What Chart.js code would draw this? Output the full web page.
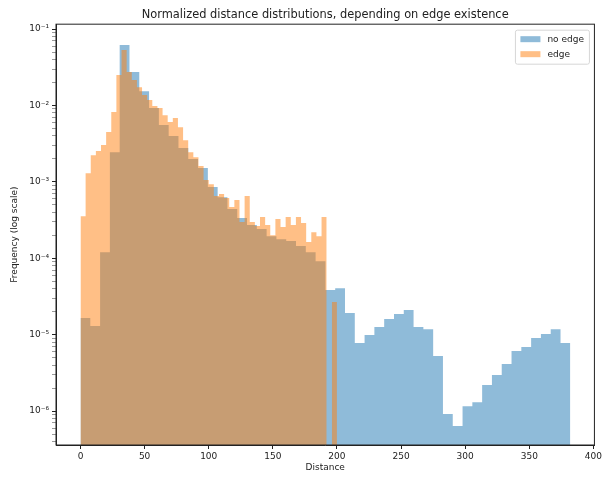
<!DOCTYPE html>
<html>
<head>
<meta charset="utf-8">
<script src="https://cdn.jsdelivr.net/npm/chart.js@4.4.1/dist/chart.umd.min.js"></script>
<style>
  html, body { margin: 0; padding: 0; background: #fff; }
  #wrap { width: 604px; height: 479px; }
</style>
</head>
<body>
<div id="wrap"><canvas id="c" width="604" height="479"></canvas></div>
<script>
// Histogram bins: 50 equal bins over each series' distance range
const BIN_COUNT = 50;
const noEdgeRange = [0, 382];
const edgeRange = [0, 200];

// Normalized frequency (density) per bin; null = empty bin
const noEdgeDensity = [
  1.65e-5, 1.30e-5, 1.20e-4, 2.45e-3, 6.18e-2, 2.74e-2, 1.54e-2, 9.25e-3, 5.54e-3, 3.98e-3,
  2.77e-3, 1.99e-3, 1.52e-3, 8.55e-4, 6.32e-4, 4.41e-4, 3.36e-4, 2.72e-4, 2.41e-4, 1.95e-4,
  1.78e-4, 1.68e-4, 1.45e-4, 1.20e-4, 9.18e-5, 3.84e-5, 4.07e-5, 1.92e-5, 7.76e-6, 9.89e-6,
  1.26e-5, 1.60e-5, 1.86e-5, 2.10e-5, 1.26e-5, 1.18e-5, 5.25e-6, 9.14e-7, 6.37e-7, 1.16e-6,
  1.31e-6, 2.19e-6, 2.96e-6, 4.12e-6, 6.10e-6, 6.89e-6, 9.02e-6, 1.02e-5, 1.18e-5, 7.76e-6
];
const edgeDensity = [
  3.56e-4, 1.30e-3, 2.24e-3, 2.53e-3, 3.03e-3, 4.49e-3, 8.20e-3, 2.50e-2, 5.31e-2, 2.74e-2,
  2.15e-2, 1.74e-2, 1.37e-2, 1.18e-2, 9.82e-3, 9.25e-3, 7.48e-3, 6.07e-3, 6.84e-3, 5.21e-3,
  3.52e-3, 2.45e-3, 2.11e-3, 1.61e-3, 1.06e-3, 9.35e-4, 6.52e-4, 6.92e-4, 6.14e-4, 4.68e-4,
  5.78e-4, 2.98e-4, 6.52e-4, 2.98e-4, 2.64e-4, 3.46e-4, 2.72e-4, 2.01e-4, 3.26e-4, 2.56e-4,
  3.46e-4, 2.72e-4, 3.46e-4, 2.89e-4, 1.63e-4, 2.20e-4, 1.95e-4, 3.46e-4, null, 2.67e-5
];

const seriesLabels = ['no edge', 'edge'];
const decadeExponents = [-7, -6, -5, -4, -3, -2, -1, 0];
const xLimits = [-19.1, 400.8];
const yLimits = [3.6e-7, 0.116];
const xTickStep = 50;

const FONT = "'DejaVu Sans', 'Liberation Sans', sans-serif";
const BLUE = 'rgba(31,119,180,0.5)';
const ORANGE = 'rgba(255,127,14,0.5)';

// Step outline of a histogram: one point at each bin's left edge, a closing
// point at the right edge of every run of non-empty bins, and a gap between runs.
function histOutline(values, range) {
  const w = (range[1] - range[0]) / BIN_COUNT;
  const pts = [];
  let open = false;
  values.forEach((v, i) => {
    const left = range[0] + i * w;
    if (v === null) {
      if (open) {
        pts.push({ x: left, y: values[i - 1] });
        pts.push({ x: left, y: null });
        open = false;
      }
      return;
    }
    pts.push({ x: left, y: v });
    open = true;
  });
  if (open) pts.push({ x: range[1], y: values[values.length - 1] });
  return pts;
}

const SUP = { '-': '\u207B', '0': '\u2070', '1': '\u00B9', '2': '\u00B2', '3': '\u00B3',
  '4': '\u2074', '5': '\u2075', '6': '\u2076', '7': '\u2077', '8': '\u2078', '9': '\u2079' };
const sup = s => String(s).split('').map(c => SUP[c] || c).join('');

// Frame around the plotting area and the boxed legend in its upper right corner
const framePlugin = {
  id: 'frameAndLegend',
  afterDraw(chart) {
    const { ctx, chartArea: a } = chart;
    ctx.save();
    ctx.strokeStyle = '#222';
    ctx.lineWidth = 1;
    ctx.strokeRect(a.left, a.top, a.right - a.left, a.bottom - a.top);

    const boxW = 74, boxH = 34;
    const bx = a.right - 5 - boxW, by = a.top + 6;
    ctx.fillStyle = 'rgba(255,255,255,0.8)';
    ctx.strokeStyle = '#d6d6d6';
    ctx.lineWidth = 1;
    ctx.beginPath();
    if (ctx.roundRect) ctx.roundRect(bx, by, boxW, boxH, 2); else ctx.rect(bx, by, boxW, boxH);
    ctx.fill();
    ctx.stroke();

    ctx.font = '9px ' + FONT;
    ctx.textBaseline = 'middle';
    chart.data.datasets.forEach((ds, i) => {
      const cy = by + 9 + i * 15;
      ctx.fillStyle = ds.backgroundColor;
      ctx.fillRect(bx + 5, cy - 3, 20, 6);
      ctx.fillStyle = '#222';
      ctx.fillText(ds.label, bx + 32, cy);
    });
    ctx.restore();
  }
};

function histDataset(label, values, range, color, order) {
  return {
    label: label,
    data: histOutline(values, range),
    backgroundColor: color,
    borderColor: 'rgba(0,0,0,0)',
    borderWidth: 0,
    pointRadius: 0,
    pointHoverRadius: 0,
    stepped: 'before',
    spanGaps: false,
    fill: 'start',
    order: order
  };
}

new Chart(document.getElementById('c'), {
  type: 'line',
  data: {
    datasets: [
      histDataset(seriesLabels[0], noEdgeDensity, noEdgeRange, BLUE, 2),
      histDataset(seriesLabels[1], edgeDensity, edgeRange, ORANGE, 1)
    ]
  },
  options: {
    responsive: false,
    animation: false,
    devicePixelRatio: 1,
    layout: { padding: { left: 0, right: 7, top: 0, bottom: 0 } },
    plugins: {
      legend: { display: false },
      tooltip: { enabled: false },
      title: {
        display: true,
        fullSize: false,
        text: 'Normalized distance distributions, depending on edge existence',
        color: '#222',
        font: { family: FONT, size: 11.4, weight: 'normal' },
        padding: { top: 8, bottom: 2.5 }
      }
    },
    scales: {
      x: {
        type: 'linear',
        position: 'bottom',
        min: xLimits[0],
        max: xLimits[1],
        offset: false,
        ticks: {
          stepSize: xTickStep,
          includeBounds: false,
          maxRotation: 0,
          autoSkip: false,
          padding: 2,
          color: '#222',
          font: { family: FONT, size: 9 }
        },
        grid: {
          drawOnChartArea: false,
          drawTicks: true,
          tickLength: 4,
          tickColor: '#222',
          tickWidth: 1
        },
        border: { display: true, color: '#222', width: 1 },
        title: {
          display: true,
          text: 'Distance',
          color: '#222',
          font: { family: FONT, size: 9 },
          padding: { top: 0, bottom: 6 }
        },
        afterFit: s => { s.height = 34; }
      },
      y: {
        type: 'logarithmic',
        position: 'left',
        min: yLimits[0],
        max: yLimits[1],
        afterBuildTicks(scale) {
          const t = [];
          decadeExponents.forEach(e => {
            for (let m = 1; m <= 9; m++) {
              const v = m * Math.pow(10, e);
              if (v >= scale.min && v <= scale.max) t.push({ value: v, major: m === 1 });
            }
          });
          scale.ticks = t;
        },
        ticks: {
          autoSkip: false,
          padding: 3,
          color: '#222',
          font: { family: FONT, size: 9 },
          callback(value, index, ticks) {
            if (!ticks[index].major) return '';
            return '10' + sup(Math.round(Math.log10(value)));
          }
        },
        grid: {
          drawOnChartArea: false,
          drawTicks: true,
          tickLength: 4,
          tickColor: ctx => (ctx.tick && ctx.tick.major) ? '#222' : '#555',
          tickWidth: ctx => (ctx.tick && ctx.tick.major) ? 1 : 0.6
        },
        border: { display: true, color: '#222', width: 1 },
        title: {
          display: true,
          text: 'Frequency (log scale)',
          color: '#222',
          font: { family: FONT, size: 9 },
          padding: { top: 9, bottom: 0 }
        },
        afterFit: s => { s.width = 56; }
      }
    }
  },
  plugins: [framePlugin]
});
</script>
</body>
</html>
